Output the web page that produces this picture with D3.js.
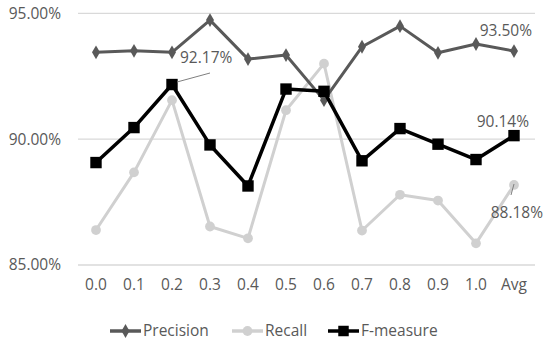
<!DOCTYPE html>
<html>
<head>
<meta charset="utf-8">
<script src="https://cdn.jsdelivr.net/npm/d3@7"></script>
<style>
  body { margin: 0; background: #fff; }
  svg text { font-family: "Open Sans", "Liberation Sans", sans-serif; fill: #595959; }
</style>
</head>
<body>
<div id="chart"></div>
<script>
// categories and series (percent)
var categories = ["0.0", "0.1", "0.2", "0.3", "0.4", "0.5", "0.6", "0.7", "0.8", "0.9", "1.0", "Avg"];
var precision = [93.45, 93.51, 93.45, 94.73, 93.18, 93.34, 91.55, 93.67, 94.49, 93.43, 93.78, 93.50];
var recall    = [86.39, 88.68, 91.55, 86.53, 86.06, 91.15, 93.00, 86.37, 87.79, 87.56, 85.86, 88.18];
var fmeasure  = [89.07, 90.46, 92.17, 89.77, 88.14, 91.99, 91.90, 89.14, 90.42, 89.80, 89.19, 90.14];
var yTicks = [85, 90, 95];

var width = 550, height = 343;

var svg = d3.select("#chart").append("svg")
    .attr("width", width)
    .attr("height", height);

// * scales
var x = d3.scalePoint()
    .domain(categories)
    .range([96, 514]);

var y = d3.scaleLinear()
    .domain([85, 95])
    .range([265, 13.3]);

// gridlines + y labels
svg.selectAll(".grid")
    .data(yTicks)
    .enter().append("line")
    .attr("class", "grid")
    .attr("x1", 78).attr("x2", 535)
    .attr("y1", function(d) { return y(d); })
    .attr("y2", function(d) { return y(d); })
    .attr("stroke", "#d9d9d9")
    .attr("stroke-width", 1.3);

svg.selectAll(".ylab")
    .data(yTicks)
    .enter().append("text")
    .attr("class", "ylab")
    .attr("x", 61)
    .attr("y", function(d) { return y(d); })
    .attr("dy", "0.35em")
    .attr("text-anchor", "end")
    .style("font-size", "15.5px")
    .text(function(d) { return d3.format(".2f")(d) + "%"; });

// x labels
svg.selectAll(".xlab")
    .data(categories)
    .enter().append("text")
    .attr("class", "xlab")
    .attr("x", function(d) { return x(d); })
    .attr("y", 290)
    .attr("text-anchor", "middle")
    .style("font-size", "15.5px")
    .text(function(d) { return d; });

var line = d3.line()
    .x(function(d, i) { return x(categories[i]); })
    .y(function(d) { return y(d); });

// series drawn back to front
var series = [
    { name: "Recall", values: recall, color: "#d0d0d0", width: 3, symbol: d3.symbolCircle, size: 75 },
    { name: "Precision", values: precision, color: "#595959", width: 3, symbol: d3.symbolDiamond, size: 55 },
    { name: "F-measure", values: fmeasure, color: "#000000", width: 3.5, symbol: d3.symbolSquare, size: 130 }
];

series.forEach(function(s) {
    svg.append("path")
        .datum(s.values)
        .attr("d", line)
        .attr("fill", "none")
        .attr("stroke", s.color)
        .attr("stroke-width", s.width)
        .attr("stroke-linejoin", "round");

    svg.selectAll(".pt-" + s.name)
        .data(s.values)
        .enter().append("path")
        .attr("transform", function(d, i) {
            return "translate(" + x(categories[i]) + "," + y(d) + ")";
        })
        .attr("d", d3.symbol().type(s.symbol).size(s.size))
        .attr("fill", s.color);
});

// data labels
var labels = [
    { text: "92.17%", x: 180, y: 63, anchor: "start", lead: [[177, 82], [210, 73]] },
    { text: "93.50%", x: 532, y: 36, anchor: "end" },
    { text: "90.14%", x: 529, y: 127, anchor: "end" },
    { text: "88.18%", x: 543, y: 218, anchor: "end", lead: [[514, 184], [511, 195]] }
];

labels.forEach(function(l) {
    if (l.lead) {
        svg.append("line")
            .attr("x1", l.lead[0][0]).attr("y1", l.lead[0][1])
            .attr("x2", l.lead[1][0]).attr("y2", l.lead[1][1])
            .attr("stroke", "#7f7f7f")
            .attr("stroke-width", 1);
    }
    svg.append("text")
        .attr("x", l.x)
        .attr("y", l.y)
        .attr("text-anchor", l.anchor)
        .style("font-size", "15.5px")
        .text(l.text);
});

// legend
var legendItems = [
    { name: "Precision", color: "#595959", symbol: d3.symbolDiamond, size: 55, x: 110 },
    { name: "Recall", color: "#d0d0d0", symbol: d3.symbolCircle, size: 75, x: 232 },
    { name: "F-measure", color: "#000000", symbol: d3.symbolSquare, size: 110, x: 328 }
];

var lg = svg.selectAll(".legend")
    .data(legendItems)
    .enter().append("g")
    .attr("class", "legend")
    .attr("transform", function(d) { return "translate(" + d.x + ",331)"; });

lg.append("line")
    .attr("x1", 0).attr("x2", 31)
    .attr("stroke", function(d) { return d.color; })
    .attr("stroke-width", 3.5);

lg.append("path")
    .attr("transform", "translate(15.5,0)")
    .attr("d", function(d) { return d3.symbol().type(d.symbol).size(d.size)(); })
    .attr("fill", function(d) { return d.color; });

lg.append("text")
    .attr("x", 33)
    .attr("dy", "0.35em")
    .style("font-size", "15.5px")
    .text(function(d) { return d.name; });
</script>
</body>
</html>
